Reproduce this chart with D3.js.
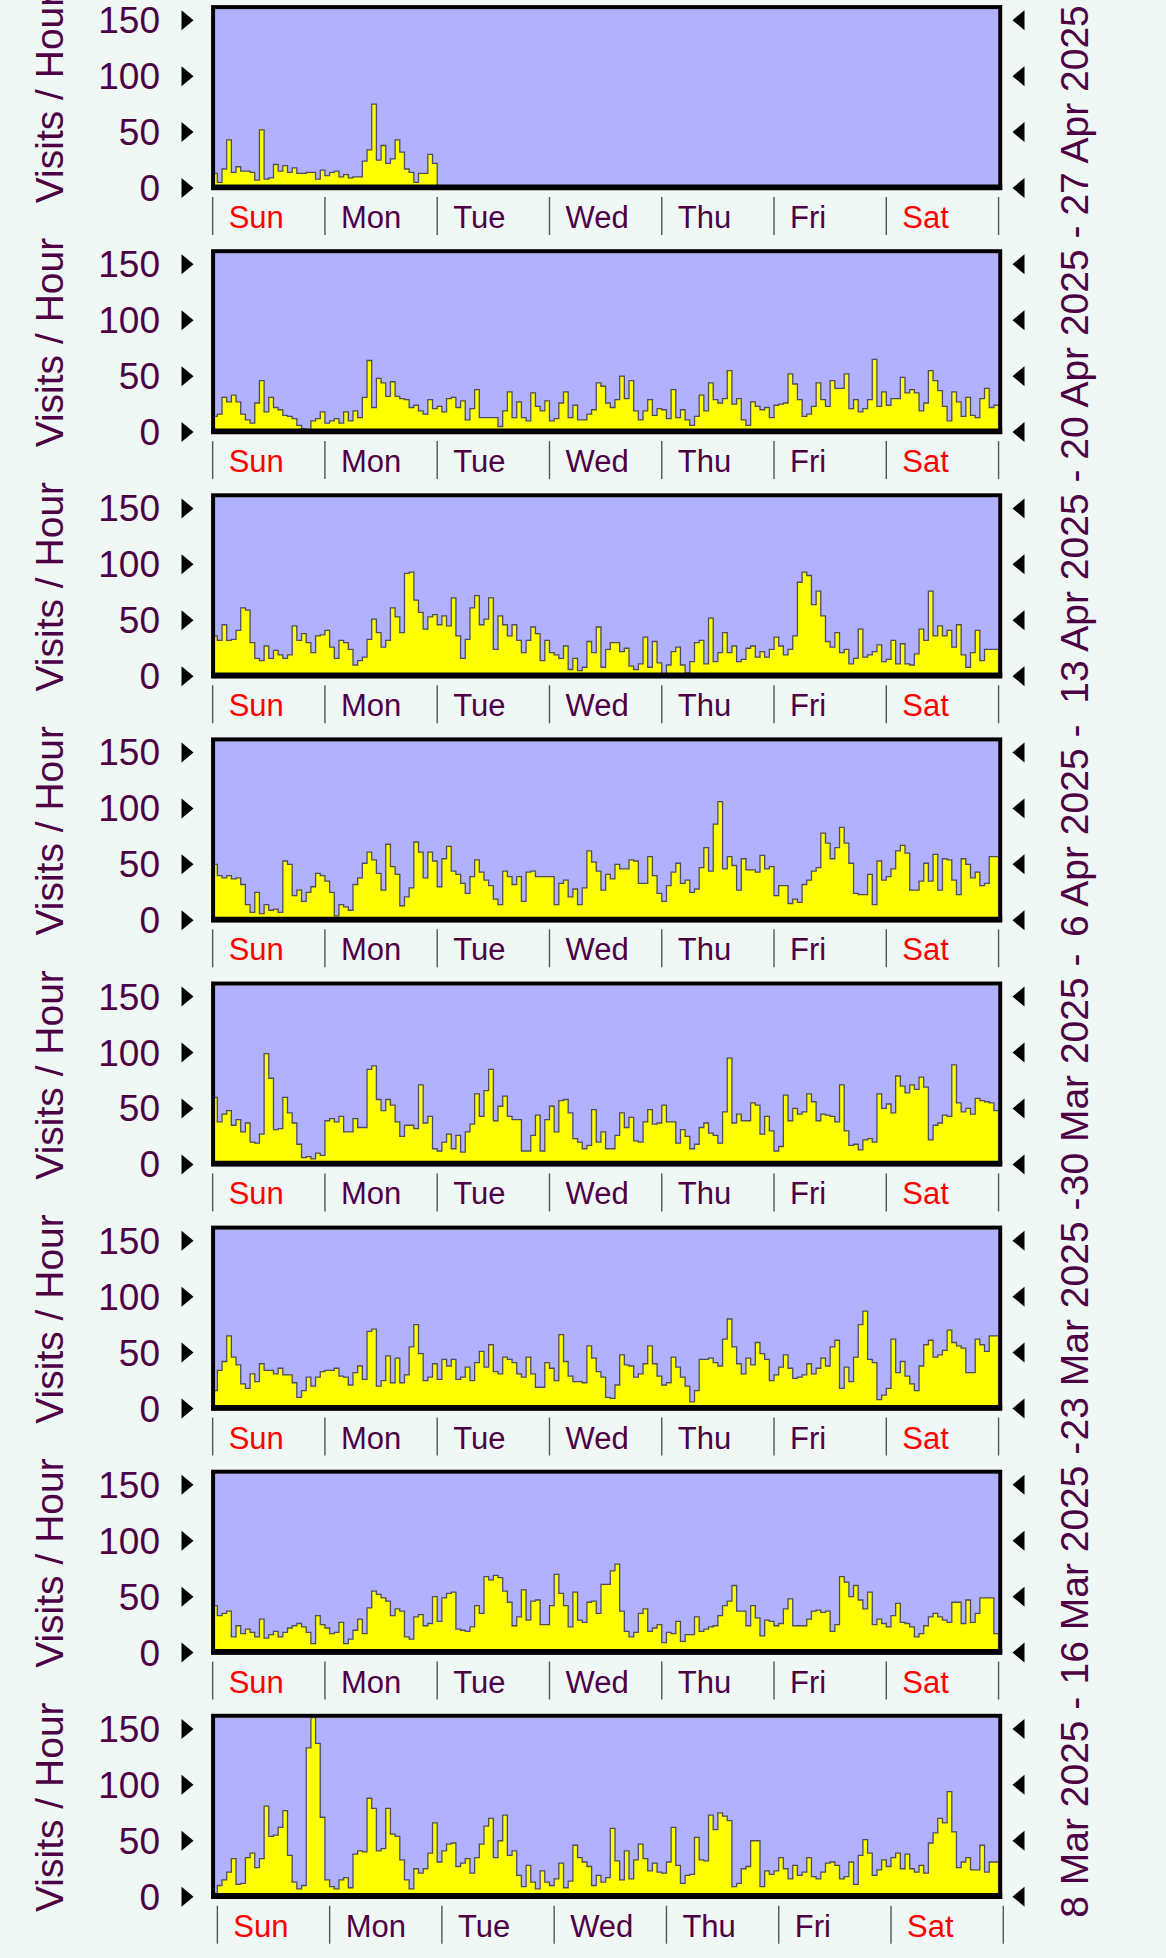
<!DOCTYPE html>
<html><head><meta charset="utf-8">
<script src="https://cdn.jsdelivr.net/npm/d3@7"></script>
<style>html,body{margin:0;padding:0;background:#f0f8f6;}svg{display:block;}</style>
</head><body>
<svg id="c" width="1166" height="1958"></svg>
<script>
// ---------------- data ----------------
const dayNames = ["Sun","Mon","Tue","Wed","Thu","Fri","Sat"];
const weekendDays = ["Sun","Sat"];
const weekLabels = ["27 Apr 2025 -","20 Apr 2025 -","13 Apr 2025 -","6 Apr 2025 -",
                    "30 Mar 2025 -","23 Mar 2025 -","16 Mar 2025 -","8 Mar 2025 -"];
const yTicks = [0,50,100,150];
const yTitle = "Visits / Hour";

// hourly visits, one array per week (Sun 00h ... Sat 23h)
const week27Apr = [13,5,17,43,14,19,15,15,14,7,52,8,9,21,15,20,14,18,13,13,14,14,8,16,
  11,14,15,10,12,9,10,10,24,34,75,25,38,22,26,43,32,17,14,5,13,13,30,22];
const week20Apr = [14,16,31,27,33,27,16,11,8,26,46,18,31,22,20,15,14,12,6,3,2,10,12,18,8,10,12,8,
  18,10,19,13,31,64,22,48,44,32,45,32,30,29,22,24,19,16,29,21,23,18,30,31,22,28,11,21,38,13,
  13,13,13,5,19,36,13,27,13,10,35,23,19,28,10,12,26,36,13,24,11,11,16,20,44,41,26,22,29,50,
  30,46,19,11,19,29,15,21,20,12,38,13,20,
  11,6,14,33,19,44,29,26,30,55,25,30,11,6,27,23,20,22,13,24,25,26,52,43,29,14,16,23,44,29,
  23,46,39,39,52,21,29,18,21,29,65,23,36,24,30,30,49,35,38,35,19,26,55,46,37,23,10,36,27,14,
  31,15,13,30,39,22,24];
const week13Apr = [36,32,46,32,33,41,61,59,30,16,14,27,16,23,19,16,19,45,32,38,30,21,36,37,41,26,16,
  32,30,24,10,14,17,33,51,39,26,32,61,53,39,92,93,68,57,42,53,55,46,54,45,70,36,16,33,61,72,
  46,51,70,24,54,46,36,46,32,21,32,44,38,14,32,21,19,16,27,6,16,5,8,31,21,44,8,24,30,30,
  22,25,9,6,11,35,8,31,12,2,10,22,
  26,10,3,13,30,32,11,52,13,21,39,21,27,13,15,25,27,17,22,17,24,35,27,19,24,36,84,93,90,64,
  76,54,31,26,39,21,24,11,16,42,17,19,22,28,13,15,32,11,29,11,10,20,42,32,76,36,45,36,41,26,
  46,19,8,21,41,14,24,24,24];
const week6Apr = [50,40,38,40,37,38,32,14,7,25,6,14,9,10,7,53,50,22,27,17,25,30,42,40,35,25,4,14,12,9,
  32,38,51,61,54,42,27,68,48,41,13,21,29,70,61,38,61,53,30,55,66,44,41,33,24,39,54,43,36,31,
  19,14,44,39,32,39,17,43,44,39,39,39,39,14,33,36,21,28,14,29,62,52,44,27,41,37,50,46,46,54,
  53,33,33,57,40,24,17,31,43,51,33,36,25,28,47,65,44,86,106,46,57,49,27,55,45,
  45,43,58,46,48,22,31,31,15,19,16,32,36,44,47,78,69,55,65,83,69,51,24,23,23,41,14,53,36,39,
  46,62,67,60,27,27,35,51,35,59,27,55,54,36,23,55,50,38,43,31,33,57,57];
const week30Mar = [60,38,45,48,35,40,29,37,20,19,27,99,77,31,32,60,46,37,18,6,
  7,5,10,8,39,41,38,43,29,29,41,33,33,85,88,58,48,58,53,38,25,35,35,32,71,37,43,14,12,20,
  27,14,26,11,29,36,63,43,66,85,39,52,61,43,40,40,12,12,26,44,12,40,52,29,57,58,46,23,20,14,
  17,49,20,29,14,14,26,46,33,42,21,20,38,49,36,37,53,38,38,
  19,31,25,14,18,33,37,28,26,19,47,95,37,45,39,39,55,53,27,43,30,12,16,62,39,50,45,47,63,56,
  39,45,44,43,38,71,30,17,18,13,22,23,20,63,50,54,46,79,70,64,71,67,78,69,22,35,37,44,43,89,
  55,47,50,45,59,57,56,55,48];
const week23Mar = [16,34,42,65,46,39,22,18,31,24,40,34,34,31,36,30,30,23,10,16,28,20,28,33,34,34,36,29,28,21,32,
  38,26,69,71,20,25,47,23,45,23,30,55,75,49,25,28,40,26,44,38,44,26,28,37,25,41,51,37,57,33,
  31,46,44,41,31,28,46,31,19,19,41,36,25,66,42,29,24,24,23,56,45,33,28,10,9,21,48,39,38,28,
  31,40,56,40,29,21,23,46,37,28,20,6,16,44,44,45,41,38,62,80,55,40,31,
  45,39,59,49,44,25,30,37,48,36,27,28,30,40,31,36,45,38,55,61,18,37,24,46,75,87,44,41,8,12,
  18,62,32,42,29,22,16,38,57,61,46,48,52,70,59,56,54,32,32,62,57,51,65,65];
const week16Mar = [42,33,35,37,14,
  24,17,21,18,14,30,13,16,19,14,18,22,24,26,23,18,8,33,25,22,17,18,27,8,12,20,30,17,40,55,
  52,49,46,33,39,37,14,12,32,34,24,26,50,28,49,53,54,21,20,19,23,42,35,68,65,69,67,55,45,24,
  32,56,29,46,47,25,25,42,70,53,42,23,54,29,27,45,46,35,61,
  61,73,79,37,19,14,18,35,39,19,22,25,9,18,17,28,10,16,16,32,19,21,23,24,33,42,46,60,37,37,
  24,42,31,15,29,28,24,26,39,48,24,24,24,30,37,38,36,37,19,25,68,63,50,60,47,39,54,25,30,26,
  23,33,44,27,26,23,14,17,24,32,35,32,29,27,45,45,26,47,27,35,49,49,49,17];
const week8Mar = [3,10,15,22,34,11,12,35,39,26,34,81,54,55,62,77,37,13,7,10,133,160,137,71,15,9,7,
  15,17,8,38,41,40,88,79,41,43,79,56,54,33,15,7,25,21,25,39,66,31,41,47,48,27,30,34,21,35,
  47,63,70,35,50,73,
  37,41,19,9,28,13,7,23,13,10,16,30,8,14,46,35,31,27,10,19,13,17,61,32,15,41,16,33,47,34,
  23,30,22,21,31,62,28,12,19,20,53,33,32,73,60,75,72,68,9,12,25,27,50,50,9,23,20,23,35,25,
  16,28,19,22,35,18,16,22,30,31,28,16,18,31,11,37,51,39,19,24,33,27,35,39,25,38,25,22,28,21,
  48,57,70,66,94,58,26,31,35,24,24,46,22,31,31];

const weeks = [week27Apr, week20Apr, week13Apr, week6Apr, week30Mar, week23Mar, week16Mar, week8Mar];

// ---------------- layout ----------------
const PITCH = 244.1;
const X0 = 215, X1 = 998.4;         // inner plot edges
const TOP = 9, ZERO = 188;          // inner top, zero line (panel 0)
const HOURS = 168;
const TXT = "#4e0045";
const FONT = "'Liberation Sans', Arial, Helvetica, sans-serif";

const svg = d3.select("#c");
const defs = svg.append("defs");

const x = d3.scaleLinear().domain([-0.5, HOURS - 0.5]).range([212.66, 998.57]);

weeks.forEach((vals, i) => {
  const oy = i * PITCH;
  const y = d3.scaleLinear().domain([0, 160]).range([ZERO + oy, TOP + oy]);
  const g = svg.append("g");
  const cid = "clip" + i;
  defs.append("clipPath").attr("id", cid).append("rect")
    .attr("x", X0).attr("y", TOP + oy).attr("width", X1 - X0).attr("height", ZERO - TOP);

  // plot background
  g.append("rect").attr("x", X0).attr("y", TOP + oy).attr("width", X1 - X0).attr("height", ZERO - TOP)
    .attr("fill", "#b1b1fe");

  // stepped area built from data through the scales
  let d = `M${x(-0.5)},${y(0)}`;
  vals.forEach((v, j) => { d += `V${y(v)}H${x(j + 0.5)}`; });
  d += `V${y(0)}Z`;
  g.append("path").attr("d", d).attr("clip-path", `url(#${cid})`)
    .attr("fill", "#ffff00").attr("stroke", "#4e4e60").attr("stroke-width", 1.3);

  // frame
  g.append("rect").attr("x", 213.1).attr("y", 7.1 + oy).attr("width", 787.1).attr("height", 180.8)
    .attr("fill", "none").attr("stroke", "#000").attr("stroke-width", 4);
  g.append("line").attr("x1", 211.1).attr("x2", 1002.2).attr("y1", 187.3 + oy).attr("y2", 187.3 + oy)
    .attr("stroke", "#000").attr("stroke-width", 5.8);

  // y ticks (triangles) and labels
  yTicks.forEach(t => {
    const ty = y(t);
    g.append("path").attr("d", `M181.5,${ty - 10}L193.5,${ty}L181.5,${ty + 10}Z`).attr("fill", "#000");
    g.append("path").attr("d", `M1024.5,${ty - 10}L1012.5,${ty}L1024.5,${ty + 10}Z`).attr("fill", "#000");
    g.append("text").attr("x", 160).attr("y", ty + 13).attr("text-anchor", "end")
      .attr("font-family", FONT).attr("font-size", 37).attr("fill", TXT).text(t);
  });

  const cy = (TOP + ZERO) / 2 + oy;
  g.append("text").attr("transform", `translate(63,${cy}) rotate(-90)`).attr("text-anchor", "middle")
    .attr("font-family", FONT).attr("font-size", 39).attr("fill", TXT).text(yTitle);
  g.append("text").attr("transform", `translate(1088,${cy}) rotate(-90)`).attr("text-anchor", "middle")
    .attr("font-family", FONT).attr("font-size", 39).attr("fill", TXT).text(weekLabels[i]);

  // day separators and names
  const shift = (i === weeks.length - 1) ? 4.7 : 0;
  d3.range(8).forEach(k => {
    const sx = x(24 * k - 0.5) + shift;
    g.append("line").attr("x1", sx).attr("x2", sx).attr("y1", ZERO + oy + 9).attr("y2", ZERO + oy + 47)
      .attr("stroke", "#555").attr("stroke-width", 1.4);
  });
  dayNames.forEach((name, k) => {
    const sx = x(24 * k - 0.5) + shift;
    g.append("text").attr("x", sx + 16).attr("y", ZERO + oy + 40)
      .attr("font-family", FONT).attr("font-size", 31)
      .attr("fill", weekendDays.includes(name) ? "#ff0000" : TXT).text(name);
  });
});
</script>
</body></html>
